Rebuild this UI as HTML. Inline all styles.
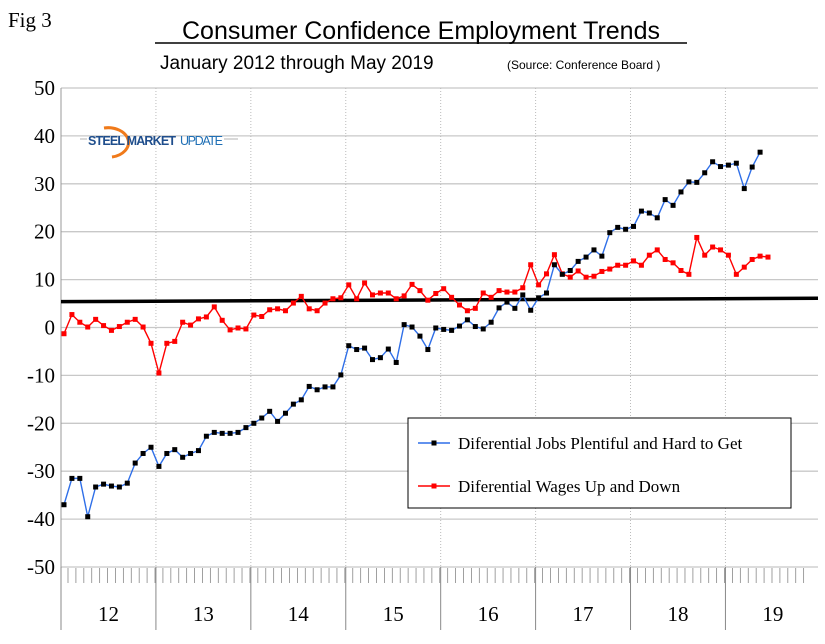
<!DOCTYPE html>
<html><head><meta charset="utf-8"><style>
body{margin:0;background:#fff;}
svg text{font-family:"Liberation Serif",serif;}
</style></head><body>
<svg id="c" width="825" height="639" xmlns="http://www.w3.org/2000/svg">
<text x="8" y="27" font-size="21">Fig 3</text>
<text x="421" y="39" font-size="25" text-anchor="middle" style="font-family:'Liberation Sans',sans-serif">Consumer Confidence Employment Trends</text>
<line x1="155" y1="43" x2="687" y2="43" stroke="#000" stroke-width="1.5"/>
<text x="160" y="69" font-size="19" style="font-family:'Liberation Sans',sans-serif">January 2012 through May 2019</text>
<text x="507" y="69" font-size="12" style="font-family:'Liberation Sans',sans-serif">(Source: Conference Board )</text>
<g id="grid"></g>
<g>
<line x1="80" y1="139" x2="87" y2="139" stroke="#ccc" stroke-width="1.5"/>
<line x1="224" y1="139" x2="238" y2="139" stroke="#ccc" stroke-width="1.5"/>
<path d="M104,128 A18,13 0 1 1 112,157" fill="none" stroke="#f07a1a" stroke-width="3"/>
<text x="88" y="145" font-size="12.5" font-weight="bold" fill="#1f4e8c" style="font-family:'Liberation Sans',sans-serif" textLength="88">STEEL MARKET</text>
<text x="180" y="145" font-size="12.5" fill="#1f6fb5" style="font-family:'Liberation Sans',sans-serif" textLength="43">UPDATE</text>
</g>
<g id="marks"></g>
<g>
<rect x="408" y="418" width="383" height="90" fill="#fff" stroke="#000" stroke-width="1"/>
<g>
<line x1="418" y1="443" x2="450" y2="443" stroke="#2f6fe8" stroke-width="1.5"/>
<rect x="431.5" y="440.5" width="5" height="5" fill="#000"/>
<text x="458" y="449" font-size="17">Diferential Jobs Plentiful and Hard to Get</text>
</g>
<g>
<line x1="418" y1="486" x2="450" y2="486" stroke="#f00" stroke-width="1.5"/>
<rect x="431.5" y="483.5" width="5" height="5" fill="#f00"/>
<text x="458" y="492" font-size="17">Diferential Wages Up and Down</text>
</g>
</g>
</svg>
<script>
const years=["12","13","14","15","16","17","18","19"];
const yTicks=[50,40,30,20,10,0,-10,-20,-30,-40,-50];
const jobs=[-37.0,-31.5,-31.5,-39.5,-33.3,-32.7,-33.1,-33.3,-32.5,-28.3,-26.3,-25.0,
-29.0,-26.3,-25.5,-27.1,-26.3,-25.7,-22.7,-21.9,-22.1,-22.1,-21.9,-20.9,
-20.0,-18.9,-17.5,-19.6,-17.9,-16.0,-15.1,-12.3,-13.0,-12.4,-12.4,-9.9,
-3.8,-4.6,-4.3,-6.7,-6.3,-4.5,-7.3,0.6,0.1,-1.8,-4.6,-0.1,
-0.4,-0.6,0.3,1.6,0.2,-0.3,1.1,4.1,5.3,4.0,6.8,3.6,
6.2,7.2,13.1,11.1,11.9,13.8,14.7,16.2,14.9,19.8,20.9,20.5,
21.1,24.3,23.9,22.9,26.7,25.5,28.3,30.4,30.3,32.3,34.6,33.6,
33.9,34.3,29.0,33.5,36.6];
const wages=[-1.3,2.7,1.1,0.1,1.7,0.4,-0.6,0.2,1.1,1.7,0.1,-3.3,
-9.5,-3.3,-2.9,1.1,0.5,1.8,2.2,4.3,1.5,-0.5,-0.1,-0.3,
2.6,2.3,3.7,3.9,3.5,5.1,6.5,3.9,3.5,5.1,6.0,6.2,
8.9,6.0,9.3,6.8,7.2,7.2,6.0,6.6,9.0,7.7,5.7,7.1,
8.1,6.3,4.7,3.5,4.0,7.2,6.3,7.7,7.4,7.4,8.3,13.1,
8.9,11.2,15.2,11.2,10.5,11.8,10.5,10.7,11.7,12.2,13.0,13.0,
13.9,13.0,15.1,16.2,14.2,13.5,11.9,11.1,18.8,15.1,16.8,16.2,
15.1,11.1,12.6,14.2,14.9,14.7];
const trend=[5.4,6.1];
const NS="http://www.w3.org/2000/svg";
const L=61,R=818,T=88,B=567,MW=7.91;
const yOf=v=>T+(50-v)*(B-T)/100;
const xOf=i=>64+MW*i;
const yrX=k=>L+k*MW*12;
function mk(t,a,p){const e=document.createElementNS(NS,t);for(const k in a)e.setAttribute(k,a[k]);(p||document.getElementById('marks')).appendChild(e);return e;}
const g=document.getElementById('grid');
yTicks.forEach(v=>{
 const ln=mk('line',{x1:L,x2:R,y1:yOf(v),y2:yOf(v),stroke:'#c8c8c8','stroke-width':1.3},g);
 
 
 const t=mk('text',{x:55,y:yOf(v)+7,'font-size':21,'text-anchor':'end'},g);t.textContent=v;
 
 
});
mk('line',{x1:L,x2:L,y1:T,y2:B,stroke:'#999'},g);
for(let k=1;k<years.length;k++){mk('line',{x1:yrX(k),x2:yrX(k),y1:T,y2:B,stroke:'#bbb','stroke-dasharray':'1,2'},g);}
for(let i=0;i<=93;i++){mk('line',{x1:L+MW*i+7,x2:L+MW*i+7,y1:B+1,y2:B+16,stroke:'#888','stroke-width':0.8},g);}
years.forEach((y,k)=>{
 mk('line',{x1:yrX(k),x2:yrX(k),y1:B,y2:630,stroke:'#888'},g);
 const t=mk('text',{x:yrX(k)+MW*6,y:621,'font-size':21,'text-anchor':'middle'},g);t.textContent=y;
 
 
});
const tl=mk('line',{x1:L,x2:R,y1:yOf(trend[0]),y2:yOf(trend[1]),stroke:'#000','stroke-width':3.5});


function series(d,lc,mc,name){
 const p=mk('polyline',{points:d.map((v,i)=>xOf(i)+','+yOf(v)).join(' '),fill:'none',stroke:lc,'stroke-width':1.4});
 
 
 d.forEach((v,i)=>{const r=mk('rect',{x:xOf(i)-2.5,y:yOf(v)-2.5,width:5,height:5,fill:mc});
 
 });
}
series(wages,'#f00','#f00','wages');
series(jobs,'#2f6fe8','#000','jobs');
</script>
</body></html>
